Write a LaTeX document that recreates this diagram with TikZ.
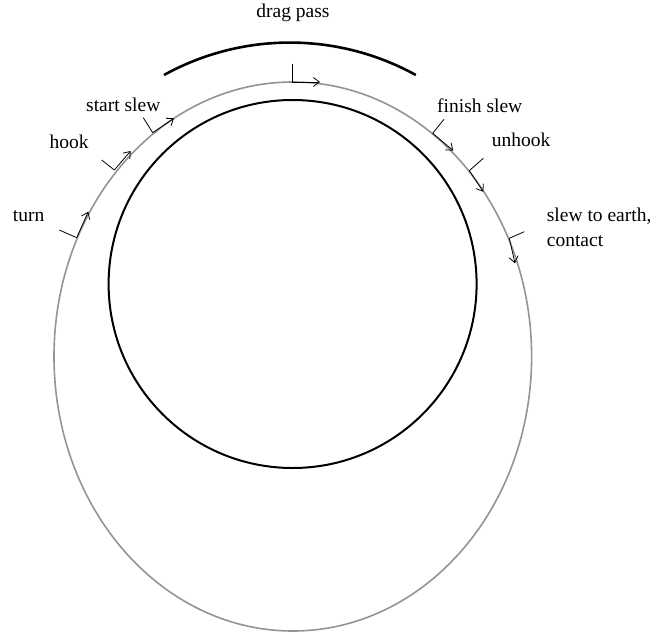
\documentclass[tikz,border=0pt]{standalone}
\usepackage{fontspec}
\setmainfont{Liberation Serif}
\usetikzlibrary{arrows.meta}
\begin{document}
\begin{tikzpicture}[x=1pt,y=-1pt,
  orbit/.style={draw=black!42, line width=1.6pt},
  planet/.style={draw=black, line width=2pt},
  drag/.style={draw=black, line width=2.6pt},
  tick/.style={draw=black, line width=0.8pt},
  motion/.style={draw=black, line width=0.8pt, -{Straight Barb[length=6pt,width=9pt]}},
  lbl/.style={font=\fontsize{19.5}{25}\selectfont, inner sep=0pt}]
\useasboundingbox (0,0) rectangle (669,634);
\coordinate (oc) at (292.8,356.5);
\coordinate (pc) at (292.6,284);
\draw[orbit] (oc) ellipse [x radius=238.8, y radius=274.5];
\draw[planet] (pc) circle [radius=184];
\coordinate (dl) at (164,75);
\draw[drag] (dl) arc[start angle=-118.9, end angle=-61.1, radius=260.5];
% markers
\coordinate (t0) at (292.3,64);   \coordinate (p0) at (292.3,82);   \coordinate (a0) at (320,82);
\coordinate (t1) at (143.3,117.7); \coordinate (p1) at (152.7,132.7); \coordinate (a1) at (174,118.3);
\coordinate (t2) at (101.7,160);  \coordinate (p2) at (114.3,170);  \coordinate (a2) at (130.7,151);
\coordinate (t3) at (59.3,230);   \coordinate (p3) at (76.7,237.7); \coordinate (a3) at (88.3,211.7);
\coordinate (t4) at (444,119.3);  \coordinate (p4) at (432.7,133.3); \coordinate (a4) at (453.3,150.7);
\coordinate (t5) at (483.3,158.3); \coordinate (p5) at (469.3,170.7); \coordinate (a5) at (483.3,191.7);
\coordinate (t6) at (524.3,231.7); \coordinate (p6) at (509.3,238.3); \coordinate (a6) at (515,263.3);
\foreach \i in {0,...,6} {
  \draw[tick] (t\i) -- (p\i);
  \draw[motion] (p\i) -- (a\i);
}
% labels
\node[lbl, anchor=base] (ldrag) at (293,18) {drag pass};
\node[lbl, anchor=base west] (lstart) at (86,111.7) {start slew};
\node[lbl, anchor=base west] (lhook) at (49.3,148) {hook};
\node[lbl, anchor=base west] (lturn) at (12.7,221.7) {turn};
\node[lbl, anchor=base west] (lfinish) at (437,112.5) {finish slew};
\node[lbl, anchor=base west] (lunhook) at (491.7,146.7) {unhook};
\node[lbl, anchor=north west, align=left] (learth) at (546.7,208.2) {slew to earth,\\contact};
\end{tikzpicture}
\end{document}
